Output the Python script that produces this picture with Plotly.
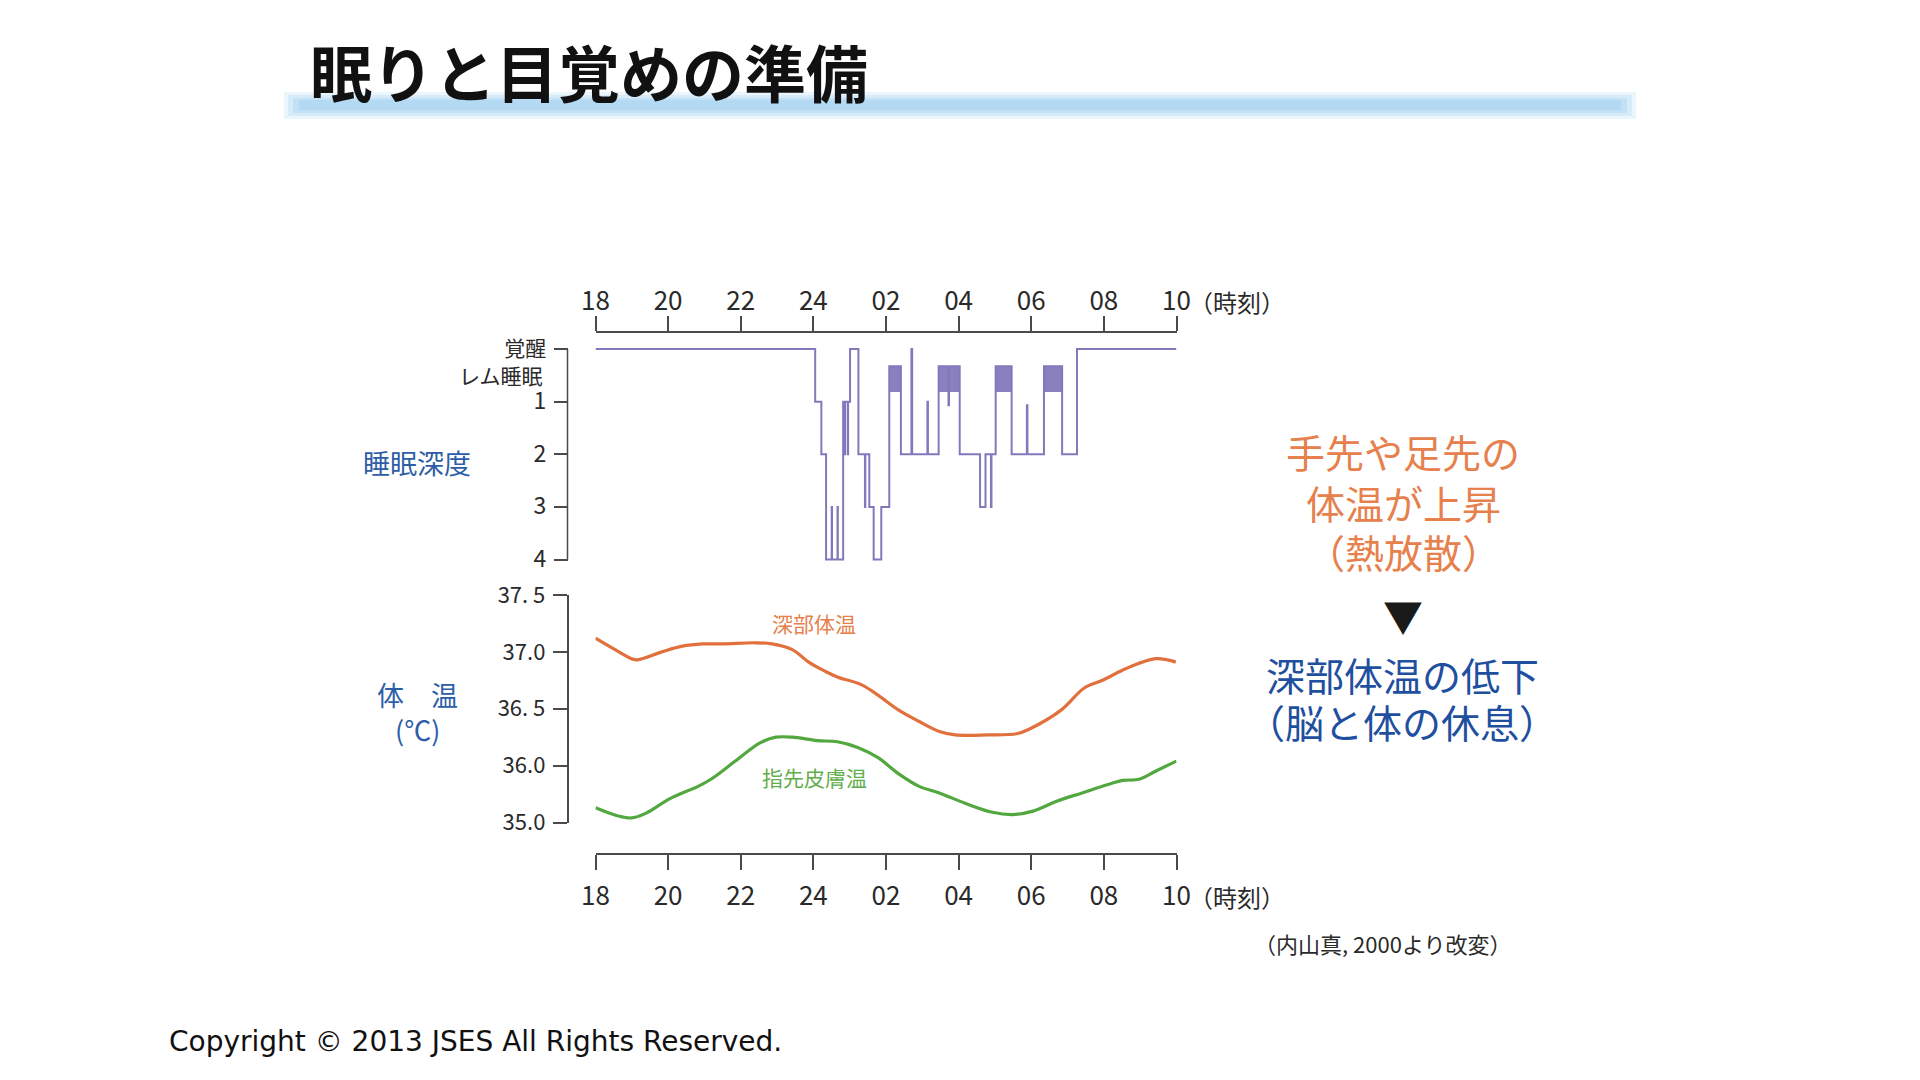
import plotly.graph_objects as go

# ---------------- data ----------------
hour_ticks = [0, 2, 4, 6, 8, 10, 12, 14, 16]          # hours since 18:00
hour_labels = ['18', '20', '22', '24', '02', '04', '06', '08', '10']

# hypnogram (0 = 覚醒, REM drawn at REM_TOP, 1-4 = sleep stages)
REM_TOP = 0.33
REM_BOTTOM = 0.82
R = REM_TOP
hyp_t = [0.00, 6.05, 6.22, 6.35, 6.505, 6.513, 6.665, 6.673, 6.82, 6.87,
         6.876, 6.95, 6.956, 7.01, 7.24, 7.42, 7.43, 7.54, 7.66, 7.87,
         8.09, 8.41, 8.70, 8.72, 9.14, 9.155, 9.45, 9.72, 9.735, 10.03,
         10.59, 10.74, 10.89, 10.905, 11.02, 11.46, 11.88, 11.895, 12.35, 12.85,
         13.26, 16.00]
hyp_s = [0, 1, 2, 4, 3, 4, 3, 4, 1, 2,
         1, 2, 1, 0, 2, 3, 2, 3, 4, 3,
         R, 2, 0, 2, 1, 2, R, 1.07, R, 2,
         3, 2, 3, 2, R, 2, 1.07, 2, R, 2,
         0, 0]
rem_start = [8.09, 9.45, 11.02, 12.35]
rem_end = [8.41, 10.03, 11.46, 12.85]

depth_ticks = [0, 1, 2, 3, 4]
depth_labels = ['覚醒', '1', '2', '3', '4']

# body temperature (axis units; bottom tick reads 35.0 because of an axis break)
core_t = [0, 0.48, 0.99, 1.16, 1.83, 2.39, 2.95, 3.51, 4.41, 4.86, 5.42, 5.87, 6.32,
          6.66, 7.33, 7.78, 8.34, 8.90, 9.47, 9.91, 10.81, 11.60, 11.94, 12.83,
          13.45, 13.96, 14.52, 14.97, 15.42, 15.75, 15.98]
core_v = [37.12, 37.03, 36.94, 36.93, 37.00, 37.05, 37.07, 37.07, 37.08, 37.07, 37.02,
          36.91, 36.83, 36.78, 36.71, 36.62, 36.49, 36.39, 36.30, 36.27, 36.27, 36.28,
          36.32, 36.49, 36.68, 36.75, 36.84, 36.90, 36.94, 36.93, 36.91]
skin_t = [0, 0.60, 0.99, 1.38, 2.05, 2.84, 3.18, 3.85, 4.53, 4.97, 5.42, 6.10, 6.66,
          7.22, 7.78, 8.34, 8.90, 9.47, 10.25, 10.93, 11.49, 12.05, 12.72, 13.40,
          14.07, 14.52, 14.97, 15.42, 16.00]
skin_v = [35.63, 35.56, 35.54, 35.58, 35.71, 35.82, 35.88, 36.04, 36.20, 36.25, 36.25,
          36.22, 36.21, 36.16, 36.07, 35.93, 35.82, 35.76, 35.66, 35.59, 35.57, 35.60,
          35.69, 35.76, 35.83, 35.87, 35.88, 35.95, 36.04]
temp_ticks = [35.5, 36.0, 36.5, 37.0, 37.5]
temp_labels = ['35.0', '36.0', '36. 5', '37.0', '37. 5']

# ---------------- styling ----------------
OFF = 8                      # default page margin around the figure
FW, FH = 1920 - 2 * OFF, 1080 - 2 * OFF


def px(x):
    return (x - OFF) / FW


def py(y):
    return 1 - (y - OFF) / FH


HYP = '#8079bb'
HYP_FILL = '#8a80c0'
ORANGE = '#e2703c'
ORANGE_TXT = '#e6804c'
GREEN = '#52a83e'
GREEN_TXT = '#62ad4c'
BLUE = '#2e5da8'
BLUE2 = '#1f4f9f'
AX = '#4a4a4a'
TXT = '#2a2a2a'
JP = 'Noto Sans CJK JP'
NARROW = 'Liberation Sans Narrow, Noto Sans CJK JP'

X0, X1 = 595.5, 1176.5          # pixel positions of 18h and 10h
AXIS_X = 567.5                  # left axis line
WAKE_Y, ST4_Y = 349.0, 559.6    # hypnogram 0 and 4
lvl = (ST4_Y - WAKE_Y) / 4
pad = 4
hyp_range = [4 + pad / lvl, -pad / lvl]

fig = go.Figure()

rem_mid = [(a + b) / 2 for a, b in zip(rem_start, rem_end)]
rem_w = [b - a for a, b in zip(rem_start, rem_end)]
fig.add_trace(go.Bar(
    x=rem_mid, y=[REM_BOTTOM - REM_TOP] * len(rem_mid), base=REM_TOP, width=rem_w,
    marker=dict(color=HYP_FILL, line=dict(width=0)),
    xaxis='x', yaxis='y', showlegend=False, hoverinfo='skip'))
fig.add_trace(go.Scatter(
    x=hyp_t, y=hyp_s, mode='lines', line=dict(color=HYP, width=2, shape='hv'),
    xaxis='x', yaxis='y', showlegend=False, hoverinfo='skip'))
fig.add_trace(go.Scatter(
    x=core_t, y=core_v, mode='lines',
    line=dict(color=ORANGE, width=3.2, shape='spline', smoothing=1.0),
    xaxis='x2', yaxis='y2', showlegend=False, hoverinfo='skip'))
fig.add_trace(go.Scatter(
    x=skin_t, y=skin_v, mode='lines',
    line=dict(color=GREEN, width=3.2, shape='spline', smoothing=1.0),
    xaxis='x2', yaxis='y2', showlegend=False, hoverinfo='skip'))

common_x = dict(domain=[px(X0), px(X1)], range=[0, 16], tickvals=hour_ticks,
                ticktext=hour_labels, ticks='outside', ticklen=15, tickwidth=1.5,
                tickcolor=AX, showline=True, linecolor=AX, linewidth=1.5,
                showgrid=False, zeroline=False, fixedrange=True, automargin=False,
                tickfont=dict(family=NARROW, size=26, color=TXT))

depth_text = [depth_labels[0]] + \
    ['<span style="font-size:23px">%s</span>' % t for t in depth_labels[1:]]

fig.update_layout(
    width=FW, height=FH, autosize=False,
    margin=dict(l=0, r=0, t=0, b=0, pad=0, autoexpand=False),
    paper_bgcolor='white', plot_bgcolor='white', showlegend=False,
    bargap=0,
    xaxis=dict(common_x, anchor='free', position=py(331.5), side='top',
               ticklabelstandoff=-5),
    xaxis2=dict(common_x, anchor='free', position=py(854), side='bottom',
                ticklabelstandoff=4),
    yaxis=dict(domain=[py(ST4_Y + pad), py(WAKE_Y - pad)], range=hyp_range,
               anchor='free', position=px(AXIS_X), tickvals=depth_ticks,
               ticktext=depth_text,
               ticks='outside', ticklen=14, tickwidth=1.5, tickcolor=AX,
               showline=False, showgrid=False, zeroline=False, fixedrange=True,
               ticklabelstandoff=3, automargin=False,
               tickfont=dict(family=NARROW, size=21, color=TXT)),
    yaxis2=dict(domain=[py(822.5), py(595)], range=[35.5, 37.5], anchor='free',
                position=px(AXIS_X), tickvals=temp_ticks, ticktext=temp_labels,
                ticks='outside', ticklen=14, tickwidth=1.5, tickcolor=AX,
                showline=True, linecolor=AX, linewidth=1.5,
                showgrid=False, zeroline=False, fixedrange=True,
                ticklabelstandoff=3, automargin=False,
                tickfont=dict(family=JP, size=22, color=TXT)),
)

# hypnogram axis line (from 覚醒 to stage 4)
fig.add_shape(type='line', xref='paper', yref='y', x0=px(AXIS_X), x1=px(AXIS_X),
              y0=depth_ticks[0], y1=depth_ticks[-1], line=dict(color=AX, width=1.5))

# title underline glow
for (xa, xb, ya, yb, col, op) in [(284, 1636, 92, 119, '#e3f1fb', 0.7),
                                  (288, 1632, 95, 116, '#d2e8f8', 0.8),
                                  (293, 1627, 98, 113, '#c1e0f5', 0.9),
                                  (299, 1621, 100, 110, '#b4d9f2', 1.0)]:
    fig.add_shape(type='rect', xref='paper', yref='paper', x0=px(xa), x1=px(xb),
                  y0=py(yb), y1=py(ya), fillcolor=col, opacity=op,
                  line=dict(width=0), layer='below')


def ann(text, x, y, size, color, family=JP, xanchor='center', yanchor='middle',
        weight='normal'):
    fig.add_annotation(text=text, x=px(x), y=py(y), xref='paper', yref='paper',
                       showarrow=False, xanchor=xanchor, yanchor=yanchor,
                       font=dict(family=family, size=size, color=color, weight=weight))


ann('眠りと目覚めの準備', 308, 71, 62, '#111111', xanchor='left', weight='bold')
ann('（時刻）', 1187, 301, 24, TXT, xanchor='left')
ann('（時刻）', 1187, 896, 24, TXT, xanchor='left')
fig.add_annotation(text='レム睡眠', x=px(545), y=0.5, xref='paper', yref='y',
                   showarrow=False, xanchor='right', yanchor='middle',
                   font=dict(family=JP, size=21, color=TXT))
ann('睡眠深度', 417, 463, 27, BLUE)
ann('体　温', 417, 694, 27, BLUE)
ann('(℃)', 417, 729, 27, BLUE)
ann('深部体温', 814, 623, 21, ORANGE_TXT)
ann('指先皮膚温', 814, 777, 21, GREEN_TXT)
ann('手先や足先の', 1403, 451, 39, ORANGE_TXT)
ann('体温が上昇', 1403, 502, 39, ORANGE_TXT)
ann('（熱放散）', 1403, 551, 39, ORANGE_TXT)
ann('▼', 1403, 615, 40, '#1a1a1a')
ann('深部体温の低下', 1402, 674, 39, BLUE2)
ann('（脳と体の休息）', 1402, 721, 39, BLUE2)
ann('（内山真, 2000より改変）', 1382, 943, 22, TXT)
ann('Copyright © 2013 JSES All Rights Reserved.', 167, 1041, 28, '#111111',
    family='DejaVu Sans', xanchor='left')

fig.write_html("out.html", config={'displayModeBar': False})
